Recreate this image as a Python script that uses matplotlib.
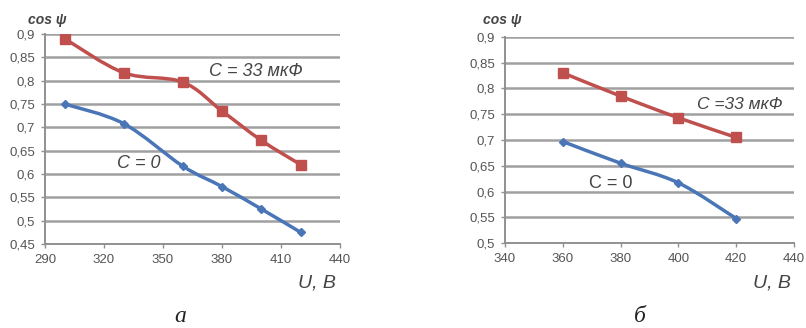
import matplotlib
matplotlib.use("Agg")
import matplotlib.pyplot as plt
from matplotlib.path import Path
from matplotlib.patches import PathPatch
import numpy as np

plt.rcParams['font.family'] = ['Liberation Sans', 'DejaVu Sans']

# Chart a
a_u = [300, 330, 360, 380, 400, 420]
a_c33 = [0.89, 0.817, 0.797, 0.735, 0.672, 0.62]
a_c0 = [0.75, 0.708, 0.617, 0.573, 0.525, 0.475]
a_xticks = [290, 320, 350, 380, 410, 440]
a_yticks = [0.45, 0.5, 0.55, 0.6, 0.65, 0.7, 0.75, 0.8, 0.85, 0.9]

# Chart b
b_u = [360, 380, 400, 420]
b_c33 = [0.83, 0.785, 0.743, 0.705]
b_c0 = [0.697, 0.655, 0.617, 0.548]
b_xticks = [340, 360, 380, 400, 420, 440]
b_yticks = [0.5, 0.55, 0.6, 0.65, 0.7, 0.75, 0.8, 0.85, 0.9]

RED = '#c0504d'
BLUE = '#4a76b8'
GRID = '#a0a0a0'


def fmt(v):
    s = ('%g' % v).replace('.', ',')
    return s


def smooth_path(x, y, t=1.0 / 6):
    x = np.asarray(x, float)
    y = np.asarray(y, float)
    verts = [(x[0], y[0])]
    codes = [Path.MOVETO]
    n = len(x)
    for i in range(n - 1):
        x0, y0 = (x[i - 1], y[i - 1]) if i > 0 else (x[i], y[i])
        x3, y3 = (x[i + 2], y[i + 2]) if i + 2 < n else (x[i + 1], y[i + 1])
        c1 = (x[i] + t * (x[i + 1] - x0), y[i] + t * (y[i + 1] - y0))
        c2 = (x[i + 1] - t * (x3 - x[i]), y[i + 1] - t * (y3 - y[i]))
        verts += [c1, c2, (x[i + 1], y[i + 1])]
        codes += [Path.CURVE4] * 3
    return Path(verts, codes)


def draw(ax, u, c33, c0, xticks, yticks):
    for y in yticks[1:]:
        ax.axhline(y, color=GRID, lw=1.8, zorder=1)
    for xs, ys, col, mk, ms in [(u, c33, RED, 's', 7), (u, c0, BLUE, 'D', 4.5)]:
        ax.add_patch(PathPatch(smooth_path(xs, ys), fill=False, edgecolor=col, lw=2.5, zorder=3))
        ax.plot(xs, ys, linestyle='none', marker=mk, markersize=ms, color=col, zorder=4)
    ax.set_xlim(xticks[0], xticks[-1])
    ax.set_ylim(yticks[0], yticks[-1])
    ax.set_xticks(xticks)
    ax.set_yticks(yticks)
    ax.set_xticklabels([str(v) for v in xticks])
    ax.set_yticklabels([fmt(v) for v in yticks])
    for s in ['top', 'right']:
        ax.spines[s].set_visible(False)
    for s in ['left', 'bottom']:
        ax.spines[s].set_color('#909090')
        ax.spines[s].set_linewidth(1.4)
    ax.tick_params(axis='both', direction='out', length=3, width=1.0, color='#909090',
                   labelsize=9.5, labelcolor='#555555', pad=4)


fig = plt.figure(figsize=(8.06, 3.28), dpi=100)
ax1 = fig.add_axes([45 / 806, 1 - 244 / 328, 295 / 806, 210 / 328])
ax2 = fig.add_axes([505 / 806, 1 - 243.3 / 328, 289 / 806, 206.6 / 328])

draw(ax1, a_u, a_c33, a_c0, a_xticks, a_yticks)
draw(ax2, b_u, b_c33, b_c0, b_xticks, b_yticks)

lab = dict(color='#444444', style='italic')
fig.text(28 / 806, 1 - 20 / 328, 'cos ψ', fontsize=10, weight='bold', va='center', ha='left', **lab)
fig.text(483 / 806, 1 - 20 / 328, 'cos ψ', fontsize=10, weight='bold', va='center', ha='left', **lab)

fig.text(336 / 806, 1 - 283 / 328, 'U, B', fontsize=14, va='center', ha='right', **lab)
fig.text(791 / 806, 1 - 283 / 328, 'U, B', fontsize=14, va='center', ha='right', **lab)

fig.text(209 / 806, 1 - 72 / 328, 'C = 33 мкФ', fontsize=13, va='center', ha='left', **lab)
fig.text(117 / 806, 1 - 163 / 328, 'C = 0', fontsize=13, va='center', ha='left', **lab)
fig.text(697 / 806, 1 - 105 / 328, 'C =33 мкФ', fontsize=12.5, va='center', ha='left', **lab)
fig.text(589 / 806, 1 - 183 / 328, 'C = 0', fontsize=13, va='center', ha='left', color='#444444')

fig.text(180 / 806, 1 - 327 / 328, 'а', fontsize=17, style='italic', family='Liberation Serif',
         va='bottom', ha='center', color='#222222')
fig.text(640 / 806, 1 - 327 / 328, 'б', fontsize=17, style='italic', family='Liberation Serif',
         va='bottom', ha='center', color='#222222')

fig.savefig('out.png', dpi=100)
